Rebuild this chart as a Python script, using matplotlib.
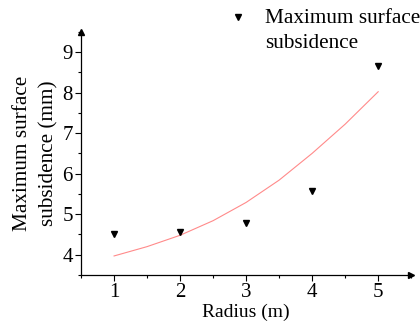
import numpy as np
import matplotlib
matplotlib.use("Agg")
import matplotlib.pyplot as plt
from matplotlib.ticker import MultipleLocator
from matplotlib.lines import Line2D

plt.rcParams['font.family'] = ['Liberation Serif', 'DejaVu Serif']
plt.rcParams['mathtext.default'] = 'regular'

# measured points
radius = [1, 2, 3, 4, 5]
subsidence = [4.50, 4.57, 4.79, 5.56, 8.65]

# fitted curve
fit_x = [1, 1.5, 2, 2.5, 3, 3.5, 4, 4.5, 5]
fit_y = [3.97, 4.20, 4.48, 4.84, 5.29, 5.84, 6.50, 7.22, 8.02]

legend_label = 'Maximum surface\nsubsidence'

fig = plt.figure(figsize=(4.2, 3.27), dpi=100)
ax = fig.add_axes([0.193, 0.159, 0.786, 0.744])

ax.plot(fit_x, fit_y, color='#ff8a8a', lw=0.8)
ax.plot(radius, subsidence, 'v', color='black', ms=5, ls='none')

ax.set_xlim(0.5, 5.5)
ax.set_ylim(3.5, 9.5)
ax.set_xticks([1, 2, 3, 4, 5])
ax.set_yticks([4, 5, 6, 7, 8, 9])
ax.xaxis.set_minor_locator(MultipleLocator(0.5))
ax.yaxis.set_minor_locator(MultipleLocator(0.5))
ax.tick_params(which='major', length=4, width=0.8, labelsize=15, direction='out', pad=2)
ax.tick_params(which='minor', length=2, width=0.8, direction='out')

for s in ['top', 'right']:
    ax.spines[s].set_visible(False)
for s in ['left', 'bottom']:
    ax.spines[s].set_linewidth(0.9)

# arrow heads on axes
ax.plot(1, 0, '>', color='black', ms=5, transform=ax.transAxes, clip_on=False)
ax.plot(0, 1, '^', color='black', ms=5, transform=ax.transAxes, clip_on=False)

ax.set_xlabel('Radius (m)', fontsize=14, labelpad=1)
ax.set_ylabel('Maximum surface\nsubsidence (mm)', fontsize=15.3, labelpad=3,
              linespacing=1.45)

# legend entry, marker aligned with the first line
fig.add_artist(Line2D([238 / 420], [1 - 17 / 327], marker='v', color='black',
                      ms=4.5, ls='none', transform=fig.transFigure))
fig.text(265 / 420, 1 - 9 / 327, legend_label, fontsize=15.3, va='top', ha='left',
         linespacing=1.4)

fig.savefig('out.png', dpi=100)
